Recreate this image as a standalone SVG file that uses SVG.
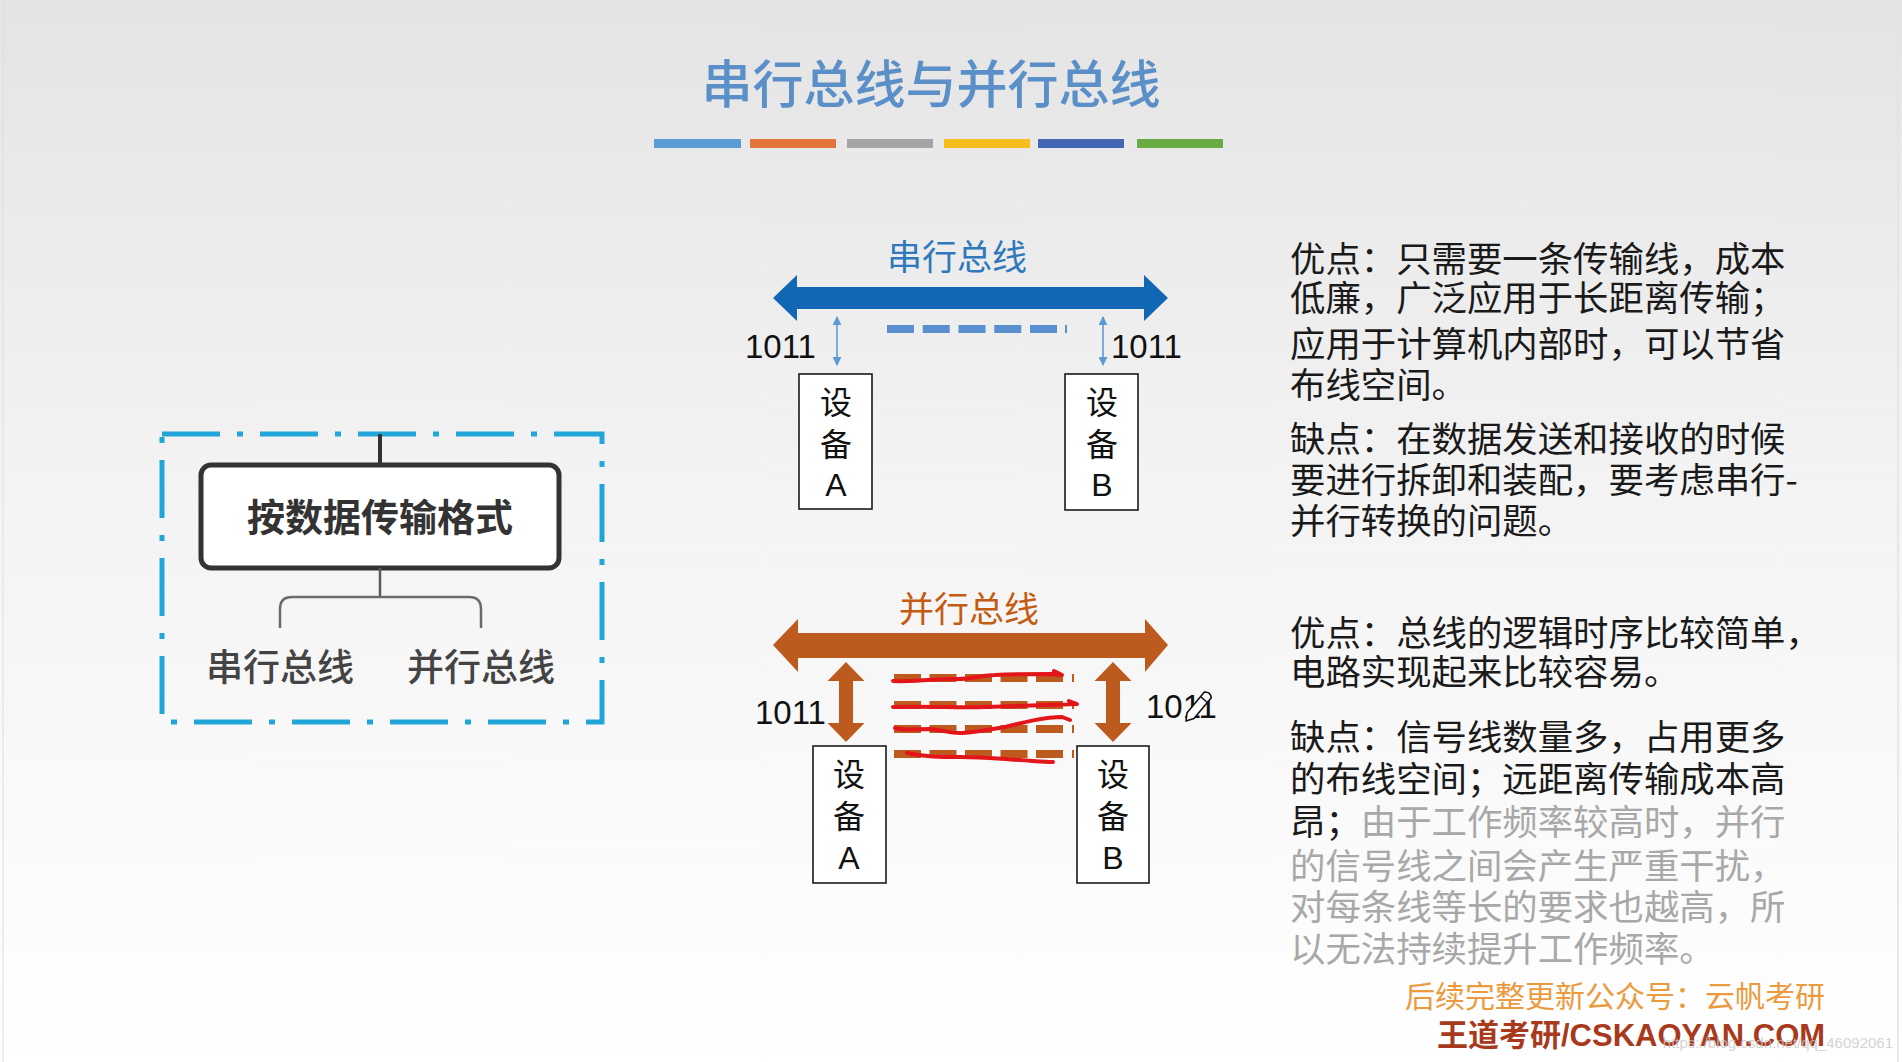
<svg xmlns="http://www.w3.org/2000/svg" width="1902" height="1062" viewBox="0 0 1902 1062">
<defs>
<linearGradient id="bg" x1="0" y1="0" x2="0" y2="1">
<stop offset="0" stop-color="#e4e4e4"/>
<stop offset="0.45" stop-color="#f3f3f3"/>
<stop offset="1" stop-color="#ffffff"/>
</linearGradient>
<marker id="sa" viewBox="0 0 10 10" refX="9" refY="5" markerWidth="9" markerHeight="9" markerUnits="userSpaceOnUse" orient="auto-start-reverse">
<path d="M0,0 L10,5 L0,10 z" fill="#5b9bd5"/>
</marker>
<style>
.cjk{font-family:"Noto Sans CJK SC","Noto Sans",sans-serif;}
.lat{font-family:"Liberation Sans",Arial,sans-serif;}
.para{font-family:"Noto Sans CJK SC",sans-serif;font-size:35.4px;fill:#1a1a1a;}
.gray{fill:#a8a8a8;}
.dev{fill:#ffffff;stroke:#1a1a1a;stroke-width:1.6;}
.devt{font-family:"Noto Sans CJK SC",sans-serif;font-size:32px;fill:#111;text-anchor:middle;}
.devl{font-family:"Liberation Sans",Arial,sans-serif;font-size:32px;fill:#111;text-anchor:middle;}
.num{font-family:"Liberation Sans",Arial,sans-serif;font-size:33px;fill:#111;}
.scrib{fill:none;stroke:#e3151b;stroke-width:4;stroke-linecap:round;stroke-linejoin:round;}
</style>
</defs>

<rect x="0" y="0" width="1902" height="1062" fill="url(#bg)"/>
<line x1="1898" y1="0" x2="1898" y2="1062" stroke="#e2e2e2" stroke-width="1.5"/>
<line x1="3" y1="0" x2="3" y2="1062" stroke="#dedede" stroke-width="1"/>

<g id="title">
<text x="931" y="103" class="cjk" font-size="51" font-weight="500" fill="#5b8fc8" text-anchor="middle">串行总线与并行总线</text>
</g>
<g id="color-bars">
<rect x="654" y="139" width="87" height="9" fill="#5b9bd5"/>
<rect x="750" y="139" width="86" height="9" fill="#e4743a"/>
<rect x="847" y="139" width="86" height="9" fill="#a5a5a5"/>
<rect x="944" y="139" width="86" height="9" fill="#f5be1c"/>
<rect x="1038" y="139" width="86" height="9" fill="#4266b4"/>
<rect x="1137" y="139" width="86" height="9" fill="#6aac44"/>
</g>

<!-- Left mind-map -->
<g id="classification-frame">
<rect x="162" y="434" width="440" height="288" fill="none" stroke="#22a6da" stroke-width="5" stroke-dasharray="58 17 6 17"/>
</g>
<g id="node-format">
<rect x="201" y="465" width="358" height="103" rx="10" fill="#ffffff" stroke="#333333" stroke-width="5"/>
<text x="380" y="531" class="cjk" font-size="38" font-weight="bold" fill="#333333" text-anchor="middle">按数据传输格式</text>
</g>
<g id="node-serial">
<text x="280" y="681" class="cjk" font-size="37" font-weight="500" fill="#444444" text-anchor="middle">串行总线</text>
</g>
<g id="node-parallel">
<text x="481" y="681" class="cjk" font-size="37" font-weight="500" fill="#444444" text-anchor="middle">并行总线</text>
</g>

<!-- Serial bus diagram -->
<g id="serial-bus">
<text x="957" y="270" class="cjk" font-size="35" fill="#2f78bb" text-anchor="middle">串行总线</text>
<polygon points="773,298 797,275 797,287 1144,287 1144,275 1168,298 1144,321 1144,309 797,309 797,321" fill="#1267b4"/>
<line x1="887" y1="329" x2="1057" y2="329" stroke="#5a8fcf" stroke-width="8" stroke-dasharray="27 8.75"/>
<rect x="1065" y="325" width="2" height="8" fill="#5a8fcf"/>
</g>
<g id="serial-device-a">
<rect x="799" y="374" width="73" height="135" class="dev"/>
<text x="836" y="414" class="devt">设</text>
<text x="836" y="456" class="devt">备</text>
<text x="836" y="496" class="devl">A</text>
</g>
<g id="serial-device-b">
<rect x="1065" y="374" width="73" height="136" class="dev"/>
<text x="1102" y="414" class="devt">设</text>
<text x="1102" y="456" class="devt">备</text>
<text x="1102" y="496" class="devl">B</text>
</g>
<text x="745" y="358" class="num">1011</text>
<text x="1111" y="358" class="num">1011</text>

<!-- Parallel bus diagram -->
<g id="parallel-bus">
<text x="969" y="622" class="cjk" font-size="35" fill="#c55a11" text-anchor="middle">并行总线</text>
<polygon points="773,645 798,619 798,633 1145,633 1145,619 1168,645 1145,672 1145,658 798,658 798,672" fill="#bd5b1e"/>
<g stroke="#bd5b1e" stroke-width="8" stroke-dasharray="27 8.5">
<line x1="894" y1="678" x2="1063" y2="678"/>
<line x1="894" y1="705" x2="1063" y2="705"/>
<line x1="894" y1="729" x2="1063" y2="729"/>
<line x1="894" y1="754" x2="1063" y2="754"/>
</g>
<g fill="#bd5b1e">
<rect x="1072" y="674" width="2" height="8"/>
<rect x="1072" y="701" width="2" height="8"/>
<rect x="1072" y="725" width="2" height="8"/>
<rect x="1072" y="750" width="2" height="8"/>
</g>
</g>
<g id="parallel-device-a">
<rect x="813" y="746" width="73" height="137" class="dev"/>
<text x="849" y="786" class="devt">设</text>
<text x="849" y="828" class="devt">备</text>
<text x="849" y="869" class="devl">A</text>
</g>
<g id="parallel-device-b">
<rect x="1077" y="746" width="72" height="137" class="dev"/>
<text x="1113" y="786" class="devt">设</text>
<text x="1113" y="828" class="devt">备</text>
<text x="1113" y="869" class="devl">B</text>
</g>
<text x="755" y="724" class="num">1011</text>
<text x="1146" y="718" class="num">1011</text>
<g id="pen-cursor" transform="translate(1186,721) rotate(-50)">
<path d="M0,0 L7,-4.5 L34,-4.5 Q38,0 34,4.5 L7,4.5 Z" fill="#ffffff" stroke="#111" stroke-width="1.6" stroke-linejoin="round"/>
<line x1="28" y1="-4.5" x2="28" y2="4.5" stroke="#111" stroke-width="1.4"/>
</g>

<!-- red hand-drawn annotations -->
<g id="annotations" class="scrib">
<path d="M893,681 C910,682 930,679 957,679 C975,679 982,675 995,675 C1020,674 1040,674 1052,674 L1062,675 L1054,671"/>
<path d="M893,707 C930,706 960,708 985,707 C1020,706 1050,705 1077,704 L1069,701"/>
<path d="M895,728 C905,731 915,729 930,729 C945,730 950,734 962,733 C980,732 992,729 1005,727 C1025,722 1045,717 1062,717 L1070,720"/>
<path d="M907,753 C925,757 940,757 960,757 C985,757 1000,759 1020,760 C1035,761 1045,762 1053,762"/>
</g>

<!-- connectors -->
<g id="connectors">
<line x1="380" y1="434" x2="380" y2="465" stroke="#333333" stroke-width="4"/>
<line x1="380" y1="568" x2="380" y2="597" stroke="#5a5a5a" stroke-width="2.5"/>
<path d="M280,628 V609 Q280,597 292,597 H469 Q481,597 481,609 V628" fill="none" stroke="#6b6b6b" stroke-width="2.5"/>
<line x1="837" y1="317" x2="837" y2="365" stroke="#5b9bd5" stroke-width="1.6" marker-start="url(#sa)" marker-end="url(#sa)"/>
<line x1="1103" y1="317" x2="1103" y2="365" stroke="#5b9bd5" stroke-width="1.6" marker-start="url(#sa)" marker-end="url(#sa)"/>
<polygon points="846,662 864.5,681 853,681 853,723 864.5,723 846,742 827.5,723 839,723 839,681 827.5,681" fill="#bd5b1e"/>
<polygon points="1113,662 1131.5,681 1120,681 1120,723 1131.5,723 1113,742 1094.5,723 1106,723 1106,681 1094.5,681" fill="#bd5b1e"/>
</g>

<!-- right side text -->
<g id="serial-notes" class="para">
<text x="1290" y="272">优点：只需要一条传输线，成本</text>
<text x="1290" y="311">低廉，广泛应用于长距离传输；</text>
<text x="1290" y="357">应用于计算机内部时，可以节省</text>
<text x="1290" y="398">布线空间。</text>
<text x="1290" y="452">缺点：在数据发送和接收的时候</text>
<text x="1290" y="493">要进行拆卸和装配，要考虑串行-</text>
<text x="1290" y="534">并行转换的问题。</text>
</g>
<g id="parallel-notes" class="para">
<text x="1290" y="646">优点：总线的逻辑时序比较简单，</text>
<text x="1290" y="685">电路实现起来比较容易。</text>
<text x="1290" y="750">缺点：信号线数量多，占用更多</text>
<text x="1290" y="792">的布线空间；远距离传输成本高</text>
<text x="1290" y="835">昂；<tspan class="gray">由于工作频率较高时，并行</tspan></text>
<text x="1290" y="879" class="gray">的信号线之间会产生严重干扰，</text>
<text x="1290" y="920" class="gray">对每条线等长的要求也越高，所</text>
<text x="1290" y="962" class="gray">以无法持续提升工作频率。</text>
</g>

<g id="footer">
<text x="1405" y="1007" class="cjk" font-size="30" fill="#eb9a3e">后续完整更新公众号：云帆考研</text>
<text x="1437" y="1046" class="cjk" font-size="31" font-weight="bold" fill="#a9391c">王道考研<tspan class="lat">/CSKAOYAN.COM</tspan></text>
<text x="1893" y="1048" class="lat" font-size="15" fill="#c8c8c8" fill-opacity="0.8" text-anchor="end">https://blog.csdn.net/qq_46092061</text>
</g>
</svg>
